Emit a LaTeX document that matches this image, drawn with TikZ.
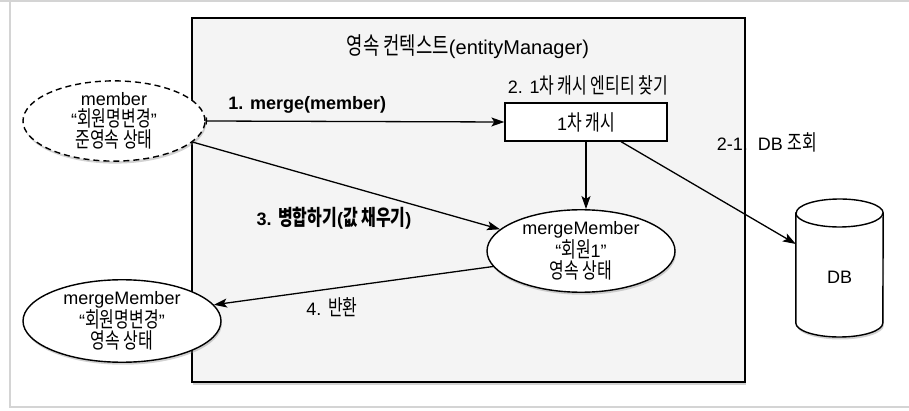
\documentclass[tikz,border=0pt]{standalone}
\usepackage{fontspec}
\setmainfont{Liberation Sans}
\newfontfamily\kr[FakeStretch=0.74,Scale=1.2]{Noto Sans CJK KR}
\usetikzlibrary{arrows.meta,shadows,shapes.geometric}
\definecolor{ctxfill}{HTML}{F4F4F4}
\definecolor{framegray}{HTML}{D4D4D4}
\begin{document}
\begin{tikzpicture}[x=1pt,y=-1pt,
  txt/.style={font=\fontsize{18}{21}\selectfont, inner sep=0pt, align=center},
  btxt/.style={txt, font=\bfseries\fontsize{18}{21}\selectfont},
  sh/.style={drop shadow={shadow xshift=1pt, shadow yshift=-2.5pt, opacity=0.35}},
  ell/.style={ellipse, draw=black, line width=1.4pt, fill=white, inner sep=0pt, txt},
  conn/.style={line width=1.3pt, -{Stealth[length=13pt,width=9pt,inset=3pt]}}
]
\useasboundingbox (0,0) rectangle (909,411);
\fill[white] (0,0) rectangle (909,411);
\draw[framegray, line width=2pt] (0,1) -- (909,1);
\draw[framegray, line width=1.2pt] (10,1) -- (10,407) -- (909,407);

% persistence context box
\node[draw=black, line width=1.3pt, fill=ctxfill, minimum width=553pt, minimum height=364pt, inner sep=0pt, sh] (ctx) at (468.5,200) {};
\node[txt, font=\fontsize{20}{24}\selectfont] (title) at (468,47) {{\kr 영속 컨텍스트}(entityManager)};

% member (detached)
\node[ell, dash pattern=on 6pt off 4pt, minimum width=182pt, minimum height=80pt, sh] (member) at (114,121)
  {member\\“{\kr 회원명변경}”\\{\kr 준영속 상태}};

% first-level cache
\node[draw=black, line width=1.3pt, fill=white, minimum width=162pt, minimum height=38pt, inner sep=0pt, txt] (cache) at (586,122) {1{\kr 차 캐시}};
\node[txt] (findlbl) at (588,85) {2. 1{\kr 차 캐시 엔티티 찾기}};

% mergeMember in context
\node[ell, minimum width=188pt, minimum height=82pt, sh] (mm) at (581,251)
  {mergeMember\\“{\kr 회원}1”\\{\kr 영속 상태}};

% returned mergeMember
\node[ell, minimum width=198pt, minimum height=72pt, sh] (ret) at (122,321)
  {mergeMember\\“{\kr 회원명변경}”\\{\kr 영속 상태}};

% DB cylinder
\node[minimum width=87pt, minimum height=138pt, inner sep=0pt] (db) at (839.5,268) {};
\begin{scope}[line width=1.4pt]
\filldraw[fill=white, draw=black, sh]
  (db.west |- 0,213) -- (db.west |- 0,323)
  arc[start angle=180, end angle=360, x radius=43.5pt, y radius=14pt]
  -- (db.east |- 0,213)
  arc[start angle=0, end angle=180, x radius=43.5pt, y radius=14pt] -- cycle;
\draw (db.west |- 0,213) arc[start angle=180, end angle=360, x radius=43.5pt, y radius=14pt];
\end{scope}
\node[txt] (dblbl) at (839.5,277) {DB};

% connectors
\draw[conn, {Bar[width=7pt]}-{Stealth[length=13pt,width=9pt,inset=3pt]}] (member.east) -- (cache.west)
  node[btxt, pos=0.34, above=7pt] (l1) {1. merge(member)};
\draw[conn] (cache.south) -- (cache.south |- mm.north);
\draw[conn] ([xshift=35pt]cache.south) -- ([yshift=24pt]db.west);
\node[txt] (l21) at (767,142) {2-1.\ \ DB {\kr 조회}};
\draw[conn] (member.-15) -- (mm.165);
\node[btxt] (l3) at (334,218) {3. {\kr\bfseries 병합하기}({\kr\bfseries 값 채우기})};
\draw[conn] (mm.190) -- (ret.10);
\node[txt] (l4) at (332,307) {4. {\kr 반환}};
\end{tikzpicture}
\end{document}
